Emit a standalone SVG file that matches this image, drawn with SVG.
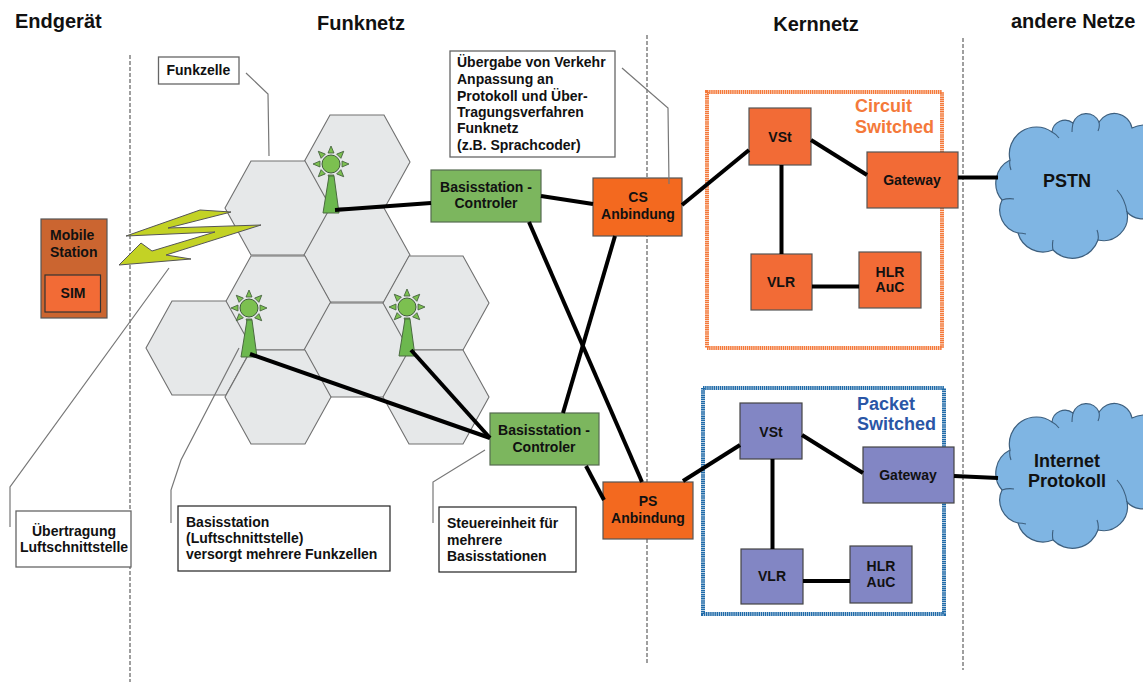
<svg xmlns="http://www.w3.org/2000/svg" xmlns:xlink="http://www.w3.org/1999/xlink" width="1143" height="682" viewBox="0 0 1143 682">
<style>
text{font-family:"Liberation Sans",Arial,sans-serif;font-weight:bold;font-size:14px;fill:#111}
.c{text-anchor:middle}
.title{font-size:20px}
.cloudt{font-size:18px}
.cs{font-size:18px;fill:#f4793a}
.ps{font-size:18px;fill:#2a56a6}
.div{fill:none;stroke:#777;stroke-width:1.4;stroke-dasharray:4 2}
.hex{fill:#e6e8e9;stroke:#707070;stroke-width:1.1}
.note{fill:#fff;stroke:#666;stroke-width:1.3}
.note2{fill:#fff;stroke:#222;stroke-width:1.2}
.org{fill:#f26b36;stroke:#555;stroke-width:1.2}
.org2{fill:#f3691f;stroke:#555;stroke-width:1.2}
.pur{fill:#8286c4;stroke:#444;stroke-width:1.2}
.grn{fill:#7cb65e;stroke:#556b50;stroke-width:1.2}
.link{fill:none;stroke:#000;stroke-width:4;stroke-linecap:butt}
.lead{fill:none;stroke:#777;stroke-width:1.2}
.ray{fill:#7cc050;stroke:#3f5a3a;stroke-width:.8}
.cloud{fill:#7fb5e3;stroke:#3d5f7e;stroke-width:1.2}
.cloudin{fill:none;stroke:#3d5f7e;stroke-width:1.1}
</style>
<defs>
<polygon id="hx" class="hex" points="-27,-47 27,-47 53,0 27,47 -27,47 -53,0"/>
<g id="tower">
<g class="ray">
<polygon points="-3,-11 3,-11 0,-18"/>
<polygon points="-3,-11 3,-11 0,-18" transform="rotate(45)"/>
<polygon points="-3,-11 3,-11 0,-18" transform="rotate(90)"/>
<polygon points="-3,-11 3,-11 0,-18" transform="rotate(135)"/>
<polygon points="-3,-11 3,-11 0,-18" transform="rotate(180)"/>
<polygon points="-3,-11 3,-11 0,-18" transform="rotate(225)"/>
<polygon points="-3,-11 3,-11 0,-18" transform="rotate(270)"/>
<polygon points="-3,-11 3,-11 0,-18" transform="rotate(315)"/>
</g>
<polygon points="-8,49 8,49 3,12 -2,12" fill="#6cb84e" stroke="#4a6a40" stroke-width="1"/>
<circle r="9" fill="#7cc050" stroke="#3f5a3a" stroke-width="1"/>
</g>
<g id="cloudshape">
<path class="cloud" d="M1010,160 A27,27 0 0 1 1052,132 A13,13 0 0 1 1073,123 A14,14 0 0 1 1099,122 A18,18 0 0 1 1132,128 A25,25 0 0 1 1160,190 A20,20 0 0 1 1127,212 A24,24 0 0 1 1098,240 A27,27 0 0 1 1053,250 A26,26 0 0 1 1018,233 A23.500,23.500 0 0 1 1002,200 A26,26 0 0 1 1010,160 Z"/>
<path class="cloudin" d="M1002,200 Q1008,198 1014,199 M1117,190 Q1125,199 1127,212 M1052,132 Q1056,134 1059,138 M1073,123 Q1072,128 1072,132 M1099,122 Q1100,127 1098,131 M1098,240 Q1099,235 1097,230 M1053,250 Q1052,245 1053,240 M1018,233 Q1022,233 1026,234 M1010,160 Q1009,165 1011,170"/>
</g>
</defs>
<rect width="1143" height="682" fill="#fff"/>

<g id="dividers">
<line class="div" x1="130" y1="55" x2="130" y2="682"/>
<line class="div" x1="647" y1="35" x2="647" y2="665"/>
<line class="div" x1="963" y1="38" x2="963" y2="670"/>
</g>

<g id="titles">
<text class="title" x="15" y="28">Endgerät</text>
<text class="title c" x="361" y="30">Funknetz</text>
<text class="title c" x="816" y="31">Kernnetz</text>
<text class="title" x="1011" y="28">andere Netze</text>
</g>

<g id="cells">
<use xlink:href="#hx" href="#hx" x="357" y="162"/>
<use xlink:href="#hx" href="#hx" x="278" y="208"/>
<use xlink:href="#hx" href="#hx" x="357" y="255"/>
<use xlink:href="#hx" href="#hx" x="278" y="303"/>
<use xlink:href="#hx" href="#hx" x="199" y="348"/>
<use xlink:href="#hx" href="#hx" x="357" y="350"/>
<use xlink:href="#hx" href="#hx" x="436" y="303"/>
<use xlink:href="#hx" href="#hx" x="278" y="397"/>
<use xlink:href="#hx" href="#hx" x="436" y="397"/>
</g>

<g id="towers">
<use xlink:href="#tower" href="#tower" x="331" y="164"/>
<use xlink:href="#tower" href="#tower" x="249" y="308"/>
<use xlink:href="#tower" href="#tower" x="407" y="307"/>
</g>

<g id="radio-link">
<polygon points="126,236 200,210 231,212 168,228 261,225 166,255 191,259 119,265 141,243 152,251 215,232" fill="#c3d225" stroke="#555" stroke-width="1"/>
</g>

<g id="cs-domain">
<rect x="707" y="92" width="235" height="256" fill="none" stroke="#f4793a" stroke-width="4" stroke-dasharray="1.5 .6"/>
<text class="cs" x="855" y="112">Circuit</text>
<text class="cs" x="855" y="133">Switched</text>
</g>
<g id="ps-domain">
<rect x="703" y="388" width="241" height="226" fill="none" stroke="#1f6aa8" stroke-width="4" stroke-dasharray="1.5 .6"/>
<text class="ps" x="857" y="410">Packet</text>
<text class="ps" x="857" y="430">Switched</text>
</g>

<g id="mobile-station">
<rect x="41" y="219" width="66" height="99" fill="#cb6530" stroke="#555" stroke-width="1.2"/>
<text x="50" y="240">Mobile</text>
<text x="50" y="257">Station</text>
</g>
<g id="sim">
<rect x="45" y="275" width="55.500" height="37" class="org" style="stroke:#333"/>
<text class="c" x="73" y="298">SIM</text>
</g>

<g id="note-funkzelle"><rect class="note" x="158.500" y="57" width="80.500" height="27"/><text x="166.500" y="75">Funkzelle</text></g>
<g id="note-uebergabe"><rect class="note" x="450" y="51" width="165" height="106"/>
<text x="457" y="67">Übergabe von Verkehr</text>
<text x="457" y="84">Anpassung an</text>
<text x="457" y="101">Protokoll und Über-</text>
<text x="457" y="117">Tragungsverfahren</text>
<text x="457" y="133">Funknetz</text>
<text x="457" y="150">(z.B. Sprachcoder)</text></g>
<g id="note-uebertragung"><rect class="note" x="16" y="511" width="115" height="56"/>
<text class="c" x="74" y="536">Übertragung</text>
<text class="c" x="74" y="552">Luftschnittstelle</text></g>
<g id="note-basisstation"><rect class="note2" x="178" y="506" width="212" height="65"/>
<text x="186" y="527">Basisstation</text>
<text x="186" y="543">(Luftschnittstelle)</text>
<text x="186" y="559">versorgt mehrere Funkzellen</text></g>
<g id="note-steuereinheit"><rect class="note2" x="439" y="507" width="137" height="65"/>
<text x="447" y="528">Steuereinheit für</text>
<text x="447" y="545">mehrere</text>
<text x="447" y="561">Basisstationen</text></g>

<g id="bsc1"><rect class="grn" x="431" y="170" width="110" height="52"/><text class="c" x="486" y="192">Basisstation -</text><text class="c" x="486" y="208">Controler</text></g>
<g id="bsc2"><rect class="grn" x="490" y="413" width="109" height="52"/><text class="c" x="544" y="435">Basisstation -</text><text class="c" x="544" y="452">Controler</text></g>
<g id="cs-anbindung"><rect class="org2" x="593" y="178" width="89" height="58"/><text class="c" x="638" y="202">CS</text><text class="c" x="638" y="219">Anbindung</text></g>
<g id="ps-anbindung"><rect class="org2" x="603" y="482" width="90" height="57"/><text class="c" x="648" y="506">PS</text><text class="c" x="648" y="523">Anbindung</text></g>

<g id="cs-vst"><rect class="org" x="749" y="108" width="62" height="57"/><text class="c" x="780" y="142">VSt</text></g>
<g id="cs-gateway"><rect class="org" x="867" y="152" width="91" height="56"/><text class="c" x="912" y="185">Gateway</text></g>
<g id="cs-vlr"><rect class="org" x="751" y="254" width="61" height="56"/><text class="c" x="781" y="287">VLR</text></g>
<g id="cs-hlr"><rect class="org" x="859" y="252" width="62" height="56"/><text class="c" x="890" y="277">HLR</text><text class="c" x="890" y="292">AuC</text></g>

<g id="ps-vst"><rect class="pur" x="740" y="403" width="62" height="56"/><text class="c" x="771" y="437">VSt</text></g>
<g id="ps-gateway"><rect class="pur" x="863" y="447" width="91" height="56"/><text class="c" x="908" y="480">Gateway</text></g>
<g id="ps-vlr"><rect class="pur" x="741" y="549" width="62" height="55"/><text class="c" x="772" y="581">VLR</text></g>
<g id="ps-hlr"><rect class="pur" x="850" y="546" width="62" height="57"/><text class="c" x="881" y="571">HLR</text><text class="c" x="881" y="587">AuC</text></g>

<g id="pstn"><use xlink:href="#cloudshape" href="#cloudshape"/><text class="c cloudt" x="1067" y="187">PSTN</text></g>
<g id="internet"><use xlink:href="#cloudshape" href="#cloudshape" y="290"/><text class="c cloudt" x="1067" y="467">Internet</text><text class="c cloudt" x="1067" y="487">Protokoll</text></g>

<g id="connectors">
<path class="link" d="M335,210 L431,203"/>
<path class="link" d="M541,196 L593,204"/>
<path class="link" d="M529,222 L642,482"/>
<path class="link" d="M615,236 L563,413"/>
<path class="link" d="M586,466 L604,500"/>
<path class="link" d="M250,354 L490,438"/>
<path class="link" d="M411,350 L490,438"/>
<path class="link" d="M682,205 L749,150"/>
<path class="link" d="M683,481 L740,445"/>
<path class="link" d="M811,140 L867,175"/>
<path class="link" d="M781.500,165 L781.500,254"/>
<path class="link" d="M812,286.500 L859,286.500"/>
<path class="link" d="M958,177.500 L998,177.500"/>
<path class="link" d="M802,435 L863,473"/>
<path class="link" d="M772.500,459 L772.500,549"/>
<path class="link" d="M803,581 L850,581"/>
<path class="link" d="M954,476 L998,478"/>
<path class="lead" d="M246,73 L268,94 L269,156"/>
<path class="lead" d="M622,68 L668,108 L669,184"/>
<path class="lead" d="M169,268 L10,487 L10,527"/>
<path class="lead" d="M239,348 L181,460 L171,490 L171,523"/>
<path class="lead" d="M485,450 L433,482 L433,523"/>
</g>
</svg>
